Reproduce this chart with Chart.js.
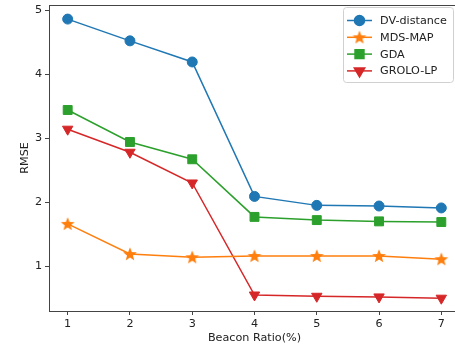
<!DOCTYPE html>
<html>
<head>
<meta charset="utf-8">
<script src="https://cdn.jsdelivr.net/npm/chart.js@4"></script>
<style>
  html, body { margin: 0; padding: 0; background: #fff; overflow: hidden; }
  #wrap { position: relative; width: 475px; height: 345px; overflow: hidden; }
  #myChart { position: absolute; left: 0; top: -3px; }
</style>
</head>
<body>
<div id="wrap"><canvas id="myChart" width="475" height="348"></canvas></div>
<script>
const ratios = [1, 2, 3, 4, 5, 6, 7];
const dvDistance = [4.86, 4.52, 4.19, 2.09, 1.95, 1.94, 1.91];
const mdsMap = [1.66, 1.19, 1.14, 1.16, 1.16, 1.16, 1.11];
const gda = [3.44, 2.94, 2.67, 1.77, 1.72, 1.70, 1.69];
const groloLp = [3.14, 2.78, 2.30, 0.55, 0.53, 0.52, 0.50];
const xTicks = [1, 2, 3, 4, 5, 6, 7];
const yTicks = [1, 2, 3, 4, 5];

const FONT = "'DejaVu Sans', sans-serif";

// five point star, matplotlib style
function makeStar(color) {
    const c = document.createElement("canvas");
    c.width = 18;
    c.height = 18;
    const g = c.getContext("2d");
    const outer = 7.2, inner = 3.1;
    g.beginPath();
    for (let i = 0; i < 10; i++) {
        const r = i % 2 === 0 ? outer : inner;
        const a = -Math.PI / 2 + i * Math.PI / 5;
        const px = 9 + r * Math.cos(a), py = 9.5 + r * Math.sin(a);
        if (i === 0) g.moveTo(px, py); else g.lineTo(px, py);
    }
    g.closePath();
    g.fillStyle = color;
    g.fill();
    return c;
}

const series = [
    { label: "DV-distance", data: dvDistance, color: "#1f77b4", style: "circle", radius: 5, rotation: 0 },
    { label: "MDS-MAP", data: mdsMap, color: "#ff7f0e", style: makeStar("#ff7f0e"), radius: 7, rotation: 0 },
    { label: "GDA", data: gda, color: "#2ca02c", style: "rect", radius: 6.3, rotation: 0 },
    { label: "GROLO-LP", data: groloLp, color: "#d62728", style: "triangle", radius: 6, rotation: 180 },
];

// canvas sits 3px above the page
const SHIFT = 3;

const frame = {
    id: "frame",
    afterDraw(chart) {
        const ctx = chart.ctx;
        const a = chart.chartArea;
        ctx.save();
        ctx.strokeStyle = "#444";
        ctx.lineWidth = 1;
        ctx.strokeRect(a.left + 0.5, a.top + 0.5, a.right - a.left, a.bottom - a.top);

        // legend box
        const bx = 343.5, by = 7.5 + SHIFT, bw = 110, bh = 75;
        ctx.fillStyle = "rgba(255,255,255,0.8)";
        ctx.strokeStyle = "#d0d0d0";
        ctx.beginPath();
        ctx.roundRect(bx, by, bw, bh, 3);
        ctx.fill();
        ctx.stroke();

        ctx.font = "11.2px " + FONT;
        ctx.textBaseline = "middle";
        series.forEach((s, i) => {
            const y = 20.5 + SHIFT + i * 16.8;
            ctx.strokeStyle = s.color;
            ctx.lineWidth = 1.5;
            ctx.beginPath();
            ctx.moveTo(347, y);
            ctx.lineTo(372, y);
            ctx.stroke();
            ctx.fillStyle = s.color;
            Chart.helpers.drawPoint(ctx, {
                pointStyle: s.style, radius: s.radius, rotation: s.rotation, borderWidth: 1,
            }, 359.5, y);
            ctx.fillStyle = "#222";
            ctx.fillText(s.label, 380, y + 0.5);
        });
        ctx.restore();
    },
};

new Chart(document.getElementById("myChart"), {
    type: "line",
    data: {
        datasets: series.map((s) => ({
            label: s.label,
            data: ratios.map((r, i) => ({ x: r, y: s.data[i] })),
            borderColor: s.color,
            backgroundColor: s.color,
            borderWidth: 1.5,
            pointStyle: s.style,
            pointRadius: s.radius,
            pointRotation: s.rotation,
            pointBorderWidth: 1,
            tension: 0,
        })),
    },
    plugins: [frame],
    options: {
        responsive: false,
        animation: false,
        layout: { padding: { top: 2, right: 15, left: 0, bottom: 0 } },
        plugins: { legend: { display: false }, tooltip: { enabled: false } },
        scales: {
            x: {
                type: "linear",
                min: 0.7,
                max: 7.3,
                afterBuildTicks: (sc) => { sc.ticks = xTicks.map((v) => ({ value: v })); },
                afterFit: (sc) => { sc.height = 34; sc.paddingLeft = 0; sc.paddingRight = 0; },
                grid: { drawOnChartArea: false, drawTicks: true, tickLength: 4, color: "#444" },
                border: { display: true, color: "#444" },
                ticks: { color: "#222", font: { family: FONT, size: 11.2 }, padding: 2, maxRotation: 0 },
                title: { display: true, text: "Beacon Ratio(%)", color: "#222", font: { family: FONT, size: 11.2 }, padding: { top: 0, bottom: 0 } },
            },
            y: {
                min: 0.3,
                max: 5.08,
                afterBuildTicks: (sc) => { sc.ticks = yTicks.map((v) => ({ value: v })); },
                afterFit: (sc) => { sc.width = 49; sc.paddingTop = 0; sc.paddingBottom = 0; },
                grid: { drawOnChartArea: false, drawTicks: true, tickLength: 4, color: "#444" },
                border: { display: true, color: "#444" },
                ticks: { color: "#222", font: { family: FONT, size: 11.2 }, padding: 3 },
                title: { display: true, text: "RMSE", color: "#222", font: { family: FONT, size: 11.2 }, padding: { top: 18, bottom: 4 } },
            },
        },
    },
});
</script>
</body>
</html>
